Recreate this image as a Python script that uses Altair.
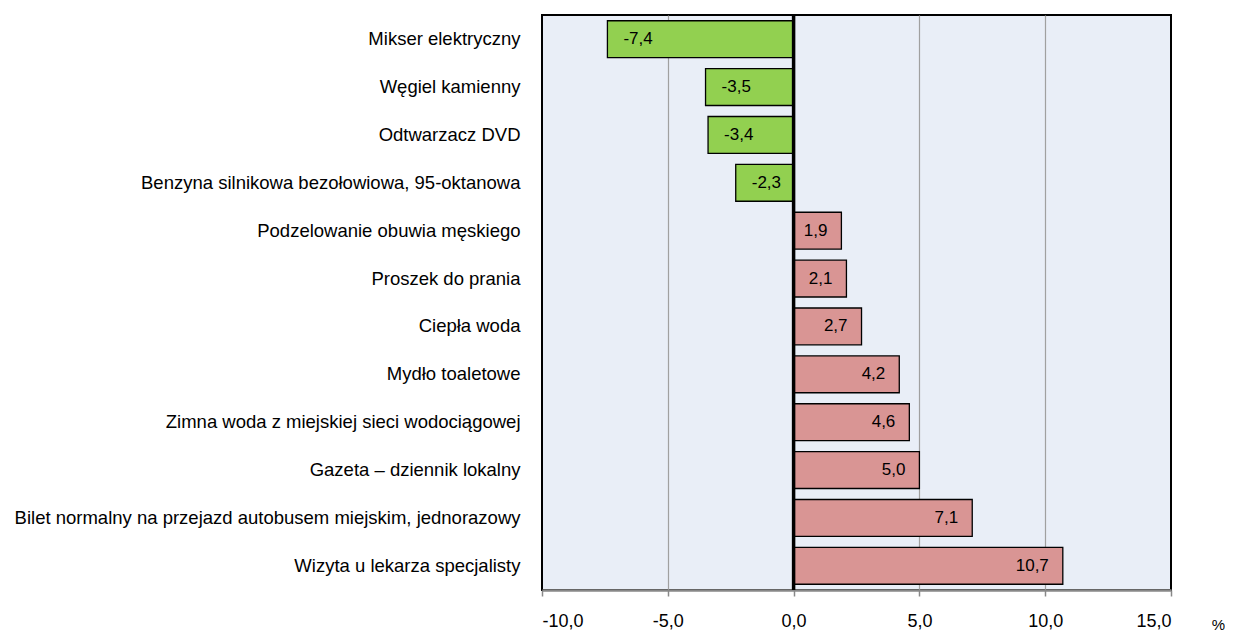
import altair as alt
import pandas as pd

categories = [
    "Mikser elektryczny",
    "Węgiel kamienny",
    "Odtwarzacz DVD",
    "Benzyna silnikowa bezołowiowa, 95-oktanowa",
    "Podzelowanie obuwia męskiego",
    "Proszek do prania",
    "Ciepła woda",
    "Mydło toaletowe",
    "Zimna woda z miejskiej sieci wodociągowej",
    "Gazeta – dziennik lokalny",
    "Bilet normalny na przejazd autobusem miejskim, jednorazowy",
    "Wizyta u lekarza specjalisty",
]
values = [-7.4, -3.5, -3.4, -2.3, 1.9, 2.1, 2.7, 4.2, 4.6, 5.0, 7.1, 10.7]
x_ticks = [-10, -5, 0, 5, 10, 15]

df = pd.DataFrame({"cat": categories, "val": values})
df["label"] = df["val"].map(lambda v: f"{v:.1f}".replace(".", ","))
df["sign"] = df["val"].map(lambda v: "neg" if v < 0 else "pos")

FONT = "Liberation Sans"

x = alt.X("val:Q", scale=alt.Scale(domain=[-10, 15], nice=False),
          axis=alt.Axis(values=x_ticks,
                        labelExpr="replace(replace(format(datum.value, '.1f'), '.', ','), '\u2212', '-')",
                        title="%", titleAngle=0, titleFont=FONT, titleFontSize=15,
                        titleFontWeight="normal", titleX=676, titleY=27,
                        titleAlign="center", titleBaseline="top",
                        titleColor="#000", labelFont=FONT, labelFontSize=18,
                        labelColor="#000", labelPadding=16, grid=True,
                        gridColor="#A0A0A0", gridWidth=1.2,
                        gridOpacity={"condition": {"test": "datum.value === -10 || datum.value === 15 || datum.value === 0", "value": 0}, "value": 1},
                        domainColor="#888888",
                        domainWidth=2.5, tickColor="#888888", tickSize=6, tickWidth=1.5))
y = alt.Y("cat:N", sort=None, scale=alt.Scale(paddingInner=0.23, paddingOuter=0.12),
          axis=alt.Axis(title=None, ticks=False, domain=False, labelFont=FONT,
                        labelFontSize=18.5, labelColor="#000", labelPadding=22,
                        labelLimit=700))

base = alt.Chart(df)

bars = base.mark_bar(stroke="#000", strokeWidth=1.3).encode(
    x=x, y=y,
    color=alt.Color("sign:N", scale=alt.Scale(domain=["neg", "pos"],
                                              range=["#92D050", "#D99594"]), legend=None),
)

labels_neg = base.transform_filter("datum.val < 0").mark_text(
    align="left", baseline="middle", dx=16, font=FONT, fontSize=17, color="#000"
).encode(x="val:Q", y=alt.Y("cat:N", sort=None), text="label:N")

labels_pos = base.transform_filter("datum.val >= 0").mark_text(
    align="right", baseline="middle", dx=-14, font=FONT, fontSize=17, color="#000"
).encode(x="val:Q", y=alt.Y("cat:N", sort=None), text="label:N")

zero = alt.Chart(pd.DataFrame({"z": [0]})).mark_rule(color="#000", strokeWidth=3.5).encode(x="z:Q")

chart = alt.layer(bars, zero, labels_neg, labels_pos).properties(
    width=629, height=575,
    background="white",
    padding={"left": 6, "top": 5, "right": 0, "bottom": 0},
).configure_view(stroke="#000", strokeWidth=2, fill="#E9EEF7")

chart.save("out.html", embed_options={"renderer": "svg", "actions": False})
